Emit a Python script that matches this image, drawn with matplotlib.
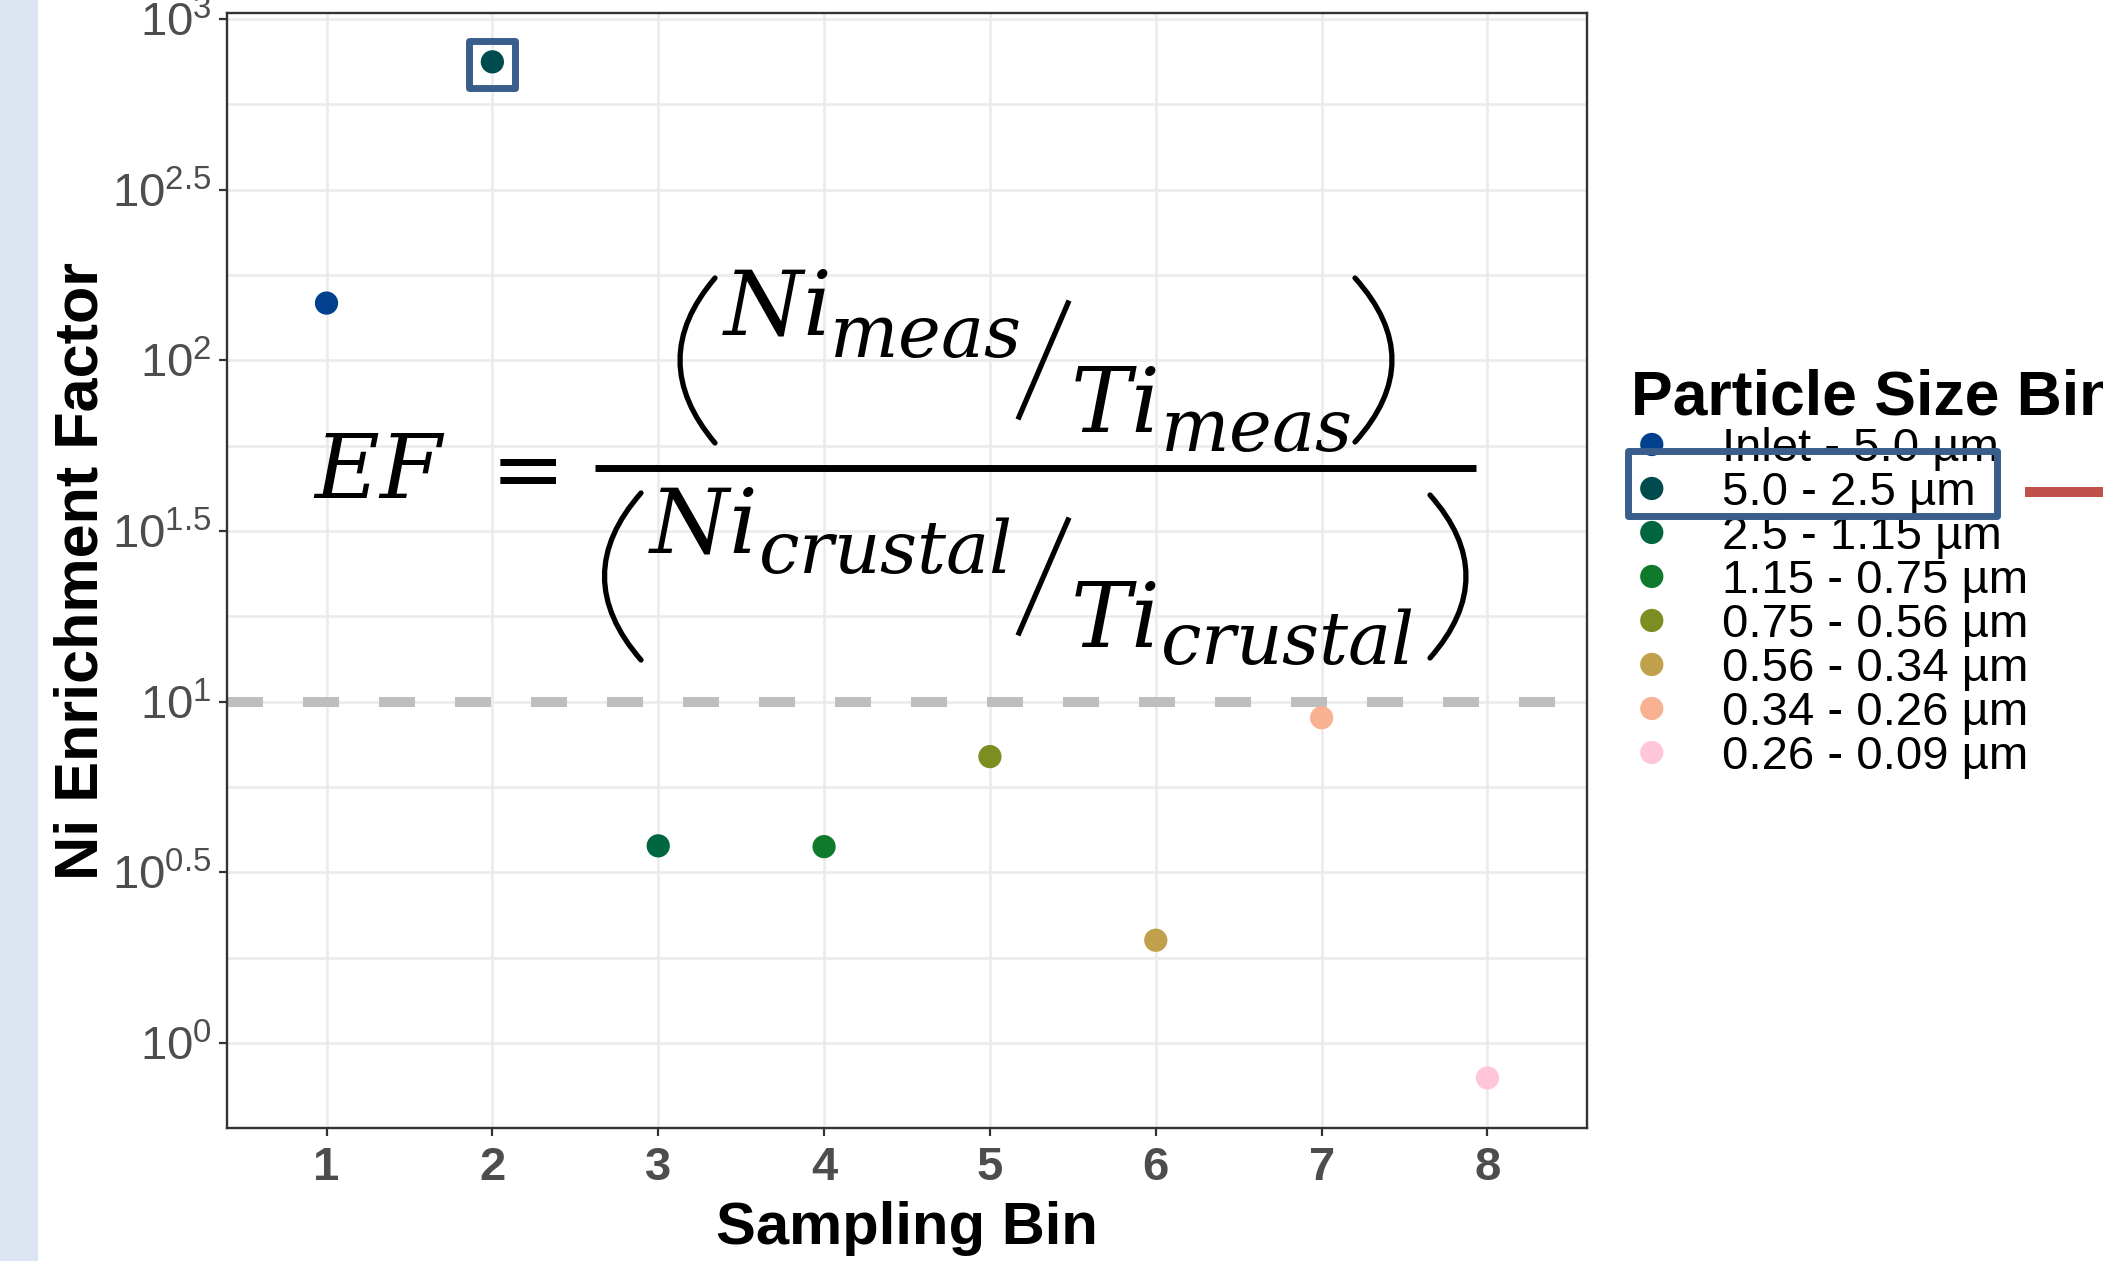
import matplotlib.pyplot as plt
from matplotlib.lines import Line2D
from matplotlib.patches import PathPatch, Rectangle
from matplotlib.path import Path
from matplotlib.ticker import FixedLocator, NullFormatter

plt.rcParams['font.family'] = ['Liberation Sans', 'DejaVu Sans']
plt.rcParams['mathtext.fontset'] = 'custom'
plt.rcParams['mathtext.rm'] = 'Liberation Sans'
plt.rcParams['mathtext.it'] = 'Liberation Sans:italic'
plt.rcParams['mathtext.bf'] = 'Liberation Sans:bold'

# data
sampling_bins = [1, 2, 3, 4, 5, 6, 7, 8]
size_bins = ['Inlet - 5.0 \u00b5m', '5.0 - 2.5 \u00b5m', '2.5 - 1.15 \u00b5m',
             '1.15 - 0.75 \u00b5m', '0.75 - 0.56 \u00b5m', '0.56 - 0.34 \u00b5m',
             '0.34 - 0.26 \u00b5m', '0.26 - 0.09 \u00b5m']
ni_ef = [147, 748, 3.78, 3.76, 6.9, 2.0, 8.97, 0.79]
bin_colors = ['#00408c', '#004b4d', '#00663f', '#0f7a2c',
              '#7b8e22', '#c0a04b', '#f8b292', '#ffc6da']
y_exponents = [0, 0.5, 1, 1.5, 2, 2.5, 3]
y_minor_exponents = [0.25, 0.75, 1.25, 1.75, 2.25, 2.75]
threshold = 10

W, H = 2103, 1261
fig = plt.figure(figsize=(W / 100, H / 100), dpi=100)


def px(x, y):
    # pixel position (from top-left) -> figure fraction
    return x / W, 1 - y / H


# light blue strip on the left edge
fig.add_artist(Rectangle((0, 0), 38 / W, 1, transform=fig.transFigure,
                         facecolor='#dbe5f1', edgecolor='none', zorder=0))

ax = fig.add_axes([227 / W, 1 - 1128 / H, (1587 - 227) / W, (1128 - 13) / H])
ax.set_yscale('log')
ax.set_xlim(0.4, 8.6)
ax.set_ylim(10 ** -0.249, 10 ** 3.017)

ax.yaxis.set_major_locator(FixedLocator([10 ** e for e in y_exponents]))
ax.yaxis.set_minor_locator(FixedLocator([10 ** e for e in y_minor_exponents]))
ax.yaxis.set_minor_formatter(NullFormatter())
ax.set_yticklabels(['$10^{%g}$' % e for e in y_exponents])
ax.set_xticks(sampling_bins)

ax.grid(True, which='major', color='#ebebeb', lw=1.8, zorder=0)
ax.grid(True, which='minor', axis='y', color='#ebebeb', lw=1.8, zorder=0)
ax.set_axisbelow(True)

ax.tick_params(axis='both', which='major', length=6, width=1.6, color='#333333',
               labelcolor='#4d4d4d', labelsize=34, pad=5)
ax.tick_params(axis='x', which='major', pad=7)
ax.tick_params(axis='y', which='minor', length=0)
for lab in ax.get_xticklabels():
    lab.set_fontweight('bold')
for s in ax.spines.values():
    s.set_color('#333333')
    s.set_linewidth(1.7)

ax.axhline(threshold, color='#bebebe', lw=7.2, dashes=(3.6, 4.0),
           solid_capstyle='butt', dash_capstyle='butt', zorder=1)

for xb, val, col, lab in zip(sampling_bins, ni_ef, bin_colors, size_bins):
    ax.scatter([xb], [val], s=280, color=col, edgecolors='none', label=lab, zorder=3)

ax.set_xlabel('Sampling Bin', fontsize=43, fontweight='bold', labelpad=8)
ax.set_ylabel('Ni Enrichment Factor', fontsize=44, fontweight='bold', labelpad=1)

leg = ax.legend(loc='upper left', bbox_to_anchor=px(1631, 368),
                bbox_transform=fig.transFigure, frameon=False, borderpad=0,
                borderaxespad=0, handlelength=0.88, handletextpad=1.04,
                labelspacing=0.0, fontsize=34, scatterpoints=1,
                scatteryoffsets=[0.5], title='Particle Size Bin',
                title_fontproperties={'weight': 'bold', 'size': 45},
                alignment='left')

# enrichment factor formula
fkw = dict(math_fontfamily='dejavuserif', ha='left', va='baseline', color='black')
fig.text(*px(313, 498), r'$EF$', fontsize=64, **fkw)
fig.text(*px(474, 498), r'$=$', fontsize=64, **fkw)
# (symbol, x, baseline) and (subscript, x, baseline)
pieces = [('Ni', 722, 335, 'meas', 829, 357),
          ('Ti', 1070, 432, 'meas', 1160, 451),
          ('Ni', 648, 552, 'crustal', 758, 573),
          ('Ti', 1070, 647, 'crustal', 1160, 664)]
for sym, xs, ys, sub, xb, yb in pieces:
    fig.text(*px(xs, ys), '$%s$' % sym, fontsize=65, **fkw)
    fig.text(*px(xb, yb), '$%s$' % sub, fontsize=52, **fkw)

fig.add_artist(Line2D(*zip(px(595, 468), px(1476, 468)), transform=fig.transFigure,
                      color='black', lw=5, solid_capstyle='butt'))
for (x0, y0), (x1, y1) in [((1019, 417), (1068, 303)), ((1019, 633), (1068, 520))]:
    fig.add_artist(Line2D(*zip(px(x0, y0), px(x1, y1)), transform=fig.transFigure,
                          color='black', lw=3.8))


def paren(top, ctrl, bottom):
    path = Path([px(*top), px(*ctrl), px(*bottom)],
                [Path.MOVETO, Path.CURVE3, Path.CURVE3])
    fig.add_artist(PathPatch(path, transform=fig.transFigure, fill=False,
                             lw=3.8, edgecolor='black', capstyle='round'))


paren((715, 278), (645, 360), (715, 443))
paren((1355, 278), (1429, 360), (1355, 442))
paren((641, 493), (568, 576), (641, 660))
paren((1430, 495), (1502, 576), (1430, 658))

# highlight boxes and pointer
fig.add_artist(Rectangle(px(469, 88), 46 / W, 47 / H, transform=fig.transFigure,
                         fill=False, edgecolor='#3a5e8c', lw=5, joinstyle='round'))
fig.add_artist(Rectangle(px(1628, 516), (1997 - 1628) / W, (516 - 451) / H,
                         transform=fig.transFigure, fill=False,
                         edgecolor='#3a5e8c', lw=5, joinstyle='round'))
fig.add_artist(Line2D(*zip(px(2025, 492), px(2110, 492)), transform=fig.transFigure,
                      color='#c0504d', lw=7.2, solid_capstyle='butt'))

fig.savefig('out.png', dpi=100)
